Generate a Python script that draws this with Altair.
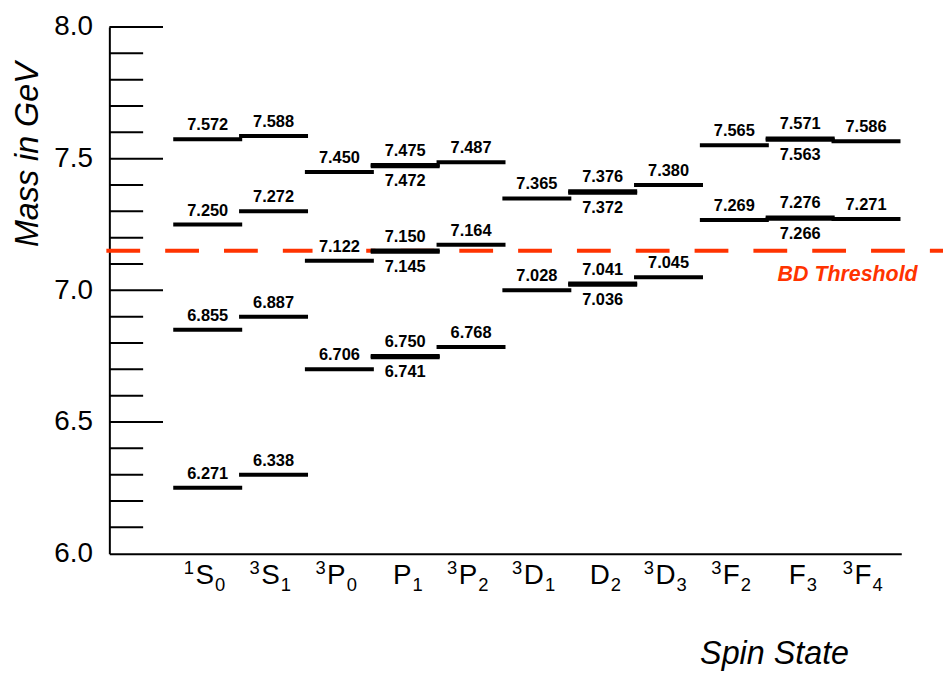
import altair as alt
import pandas as pd

# ---------------- data ----------------
state_sup = ["1", "3", "3", "", "3", "3", "", "3", "3", "", "3"]
state_letter = ["S", "S", "P", "P", "P", "D", "D", "D", "F", "F", "F"]
state_sub = ["0", "1", "0", "1", "2", "1", "2", "3", "2", "3", "4"]

level_col = [0, 0, 0, 0,
             1, 1, 1, 1,
             2, 2, 2,
             3, 3, 3, 3, 3, 3,
             4, 4, 4,
             5, 5,
             6, 6, 6, 6,
             7, 7,
             8, 8,
             9, 9, 9, 9,
             10, 10]
level_text = ["7.572", "7.250", "6.855", "6.271",
              "7.588", "7.272", "6.887", "6.338",
              "7.450", "7.122", "6.706",
              "7.475", "7.472", "7.150", "7.145", "6.750", "6.741",
              "7.487", "7.164", "6.768",
              "7.365", "7.028",
              "7.376", "7.372", "7.041", "7.036",
              "7.380", "7.045",
              "7.565", "7.269",
              "7.571", "7.563", "7.276", "7.266",
              "7.586", "7.271"]
# positions at which the levels are drawn
level_drawn = [7.574, 7.250, 6.850, 6.250,
               7.586, 7.300, 6.900, 6.300,
               7.449, 7.112, 6.700,
               7.476, 7.471, 7.151, 7.146, 6.751, 6.746,
               7.486, 7.173, 6.785,
               7.349, 7.000,
               7.376, 7.371, 7.026, 7.021,
               7.400, 7.050,
               7.551, 7.267,
               7.577, 7.572, 7.277, 7.272,
               7.566, 7.271]
level_side = ["above", "above", "above", "above",
              "above", "above", "above", "above",
              "above", "above", "above",
              "above", "below", "above", "below", "above", "below",
              "above", "above", "above",
              "above", "above",
              "above", "below", "above", "below",
              "above", "above",
              "above", "above",
              "above", "below", "above", "below",
              "above", "above"]

major_ticks = [6.5, 7.0, 7.5, 8.0]
minor_ticks = [6.1, 6.2, 6.3, 6.4, 6.6, 6.7, 6.8, 6.9,
               7.1, 7.2, 7.3, 7.4, 7.6, 7.7, 7.8, 7.9]
y_labels = [6.0, 6.5, 7.0, 7.5, 8.0]
threshold = [7.15]
threshold_label = ["BD Threshold"]

# ---------------- layout constants ----------------
W, H = 797, 530
PX = 66.25          # pixels per column
PY = H / 2.0        # pixels per GeV
XMIN = -99 / PX
XMAX = (W - 99) / PX
FONT = "Liberation Sans"
RED = "#ff3300"

xs = alt.Scale(domain=[XMIN, XMAX], nice=False, zero=False)
ys = alt.Scale(domain=[6.0, 8.0], nice=False, zero=False)

xaxis = alt.Axis(labels=False, ticks=False, tickSize=0, grid=False, domain=True,
                 domainColor="black", domainWidth=2, title="Spin State",
                 titleFont=FONT, titleFontSize=32.5, titleFontStyle="italic",
                 titleFontWeight="normal", titleColor="black",
                 titleX=669, titleY=111, titleAlign="center", titleBaseline="alphabetic",
                 titleAnchor="start")
yaxis = alt.Axis(values=y_labels, format=".1f", ticks=False, tickSize=0, grid=False,
                 domain=True, domainColor="black", domainWidth=2,
                 labelFont=FONT, labelFontSize=28, labelColor="black", labelPadding=17,
                 title="Mass in GeV", titleFont=FONT, titleFontSize=32.5,
                 titleFontStyle="italic", titleFontWeight="normal", titleColor="black",
                 titleAngle=270, titleX=-72, titleY=128, titleAlign="center",
                 titleBaseline="alphabetic", titleAnchor="start")


def X(field):
    return alt.X(field, type="quantitative", scale=xs, axis=xaxis)


def Y(field):
    return alt.Y(field, type="quantitative", scale=ys, axis=yaxis)


# ---------------- tables ----------------
levels = pd.DataFrame({"col": level_col, "text": level_text,
                       "v": level_drawn, "side": level_side})
levels["x1"] = levels["col"] - 34.7 / PX
levels["x2"] = levels["col"] + 34.7 / PX
levels["bx1"] = levels["col"] - 27 / PX
levels["bx2"] = levels["col"] + 27 / PX
up = levels["side"] == "above"
levels["by1"] = levels["v"] + (up.map({True: 7, False: -7})) / PY
levels["by2"] = levels["v"] + (up.map({True: 22, False: -22})) / PY
above = levels[up]
below = levels[~up]

letter_w = {"S": 0.667, "P": 0.667, "D": 0.722, "F": 0.611}
MAIN_FS = 28
states = pd.DataFrame({"sup": state_sup, "letter": state_letter, "sub": state_sub})
states["col"] = range(len(states))
states["w"] = states["letter"].map(letter_w) * MAIN_FS
states["xm"] = states["col"] + (-3) / PX
states["xsup"] = states["col"] + (-3 - states["w"] / 2 - 1.5) / PX
states["xsub"] = states["col"] + (-3 + states["w"] / 2 + 1) / PX

ticks_major = pd.DataFrame({"v": major_ticks})
ticks_minor = pd.DataFrame({"v": minor_ticks})
thr = pd.DataFrame({"v": threshold, "label": threshold_label})

# ---------------- layers ----------------
major = alt.Chart(ticks_major).mark_rule(color="black", strokeWidth=2).encode(
    x=alt.value(0), x2=alt.value(54), y=Y("v"))
minor = alt.Chart(ticks_minor).mark_rule(color="black", strokeWidth=2).encode(
    x=alt.value(0), x2=alt.value(34), y=Y("v"))

thr_line = alt.Chart(thr).mark_rule(color=RED, strokeWidth=4, strokeDash=[34, 25.2]).encode(
    x=alt.value(-3), x2=alt.value(843), y=Y("v"))
thr_text = alt.Chart(thr).mark_text(
    color=RED, font=FONT, fontSize=21.5, fontWeight="bold", fontStyle="italic",
    align="center", baseline="alphabetic", dy=30).encode(
    x=alt.value(743), y=Y("v"), text="label:N")

boxes = alt.Chart(levels).mark_rect(color="white").encode(
    x=X("bx1"), x2=alt.X2("bx2"), y=Y("by1"), y2=alt.Y2("by2"))

bars = alt.Chart(levels).mark_rule(color="black", strokeWidth=4, strokeCap="butt").encode(
    x=X("x1"), x2=alt.X2("x2"), y=Y("v"))

lab_above = alt.Chart(above).mark_text(
    font=FONT, fontSize=16.5, fontWeight="bold", color="black",
    align="center", baseline="alphabetic", dy=-9).encode(
    x=X("col"), y=Y("v"), text="text:N")
lab_below = alt.Chart(below).mark_text(
    font=FONT, fontSize=16.5, fontWeight="bold", color="black",
    align="center", baseline="alphabetic", dy=20).encode(
    x=X("col"), y=Y("v"), text="text:N")

st_main = alt.Chart(states).mark_text(
    font=FONT, fontSize=MAIN_FS, color="black", align="center", baseline="alphabetic").encode(
    x=X("xm"), y=alt.value(H + 31), text="letter:N")
st_sup = alt.Chart(states).mark_text(
    font=FONT, fontSize=18.5, color="black", align="right", baseline="alphabetic").encode(
    x=X("xsup"), y=alt.value(H + 20), text="sup:N")
st_sub = alt.Chart(states).mark_text(
    font=FONT, fontSize=18.5, color="black", align="left", baseline="alphabetic").encode(
    x=X("xsub"), y=alt.value(H + 38), text="sub:N")

chart = alt.layer(
    major, minor, thr_line, boxes, bars, lab_above, lab_below, thr_text,
    st_main, st_sup, st_sub
).properties(
    width=W, height=H,
    autosize=alt.AutoSizeParams(type="none"),
    padding={"left": 102, "top": 17, "right": 42, "bottom": 120},
    background="white",
).configure_view(stroke=None)

chart.save("out.html", embed_options={"renderer": "svg", "actions": False})
